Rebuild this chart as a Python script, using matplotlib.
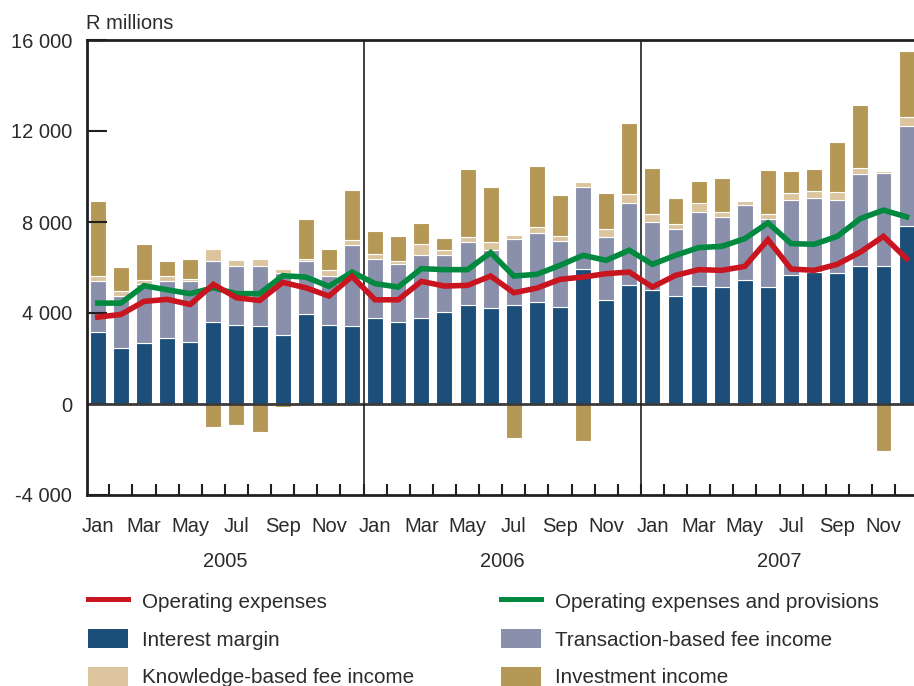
import numpy as np
import matplotlib
matplotlib.use("Agg")
import matplotlib.pyplot as plt
from matplotlib.patches import Patch
from matplotlib.lines import Line2D

plt.rcParams['font.family'] = ['Liberation Sans', 'DejaVu Sans']

years = ["2005", "2006", "2007"]
month_labels = ["Jan", "", "Mar", "", "May", "", "Jul", "", "Sep", "", "Nov", ""]

# R millions
interest_margin = [3155, 2450, 2690, 2880, 2715, 3625, 3480, 3435, 3040, 3965, 3465, 3435,
                   3790, 3625, 3790, 4025, 4360, 4200, 4330, 4480, 4260, 5935, 4580, 5245,
                   5025, 4730, 5170, 5140, 5435, 5140, 5670, 5785, 5755, 6080, 6050, 7830]
transaction_fee = [2235, 2290, 2570, 2510, 2675, 2645, 2570, 2645, 2715, 2305, 2145, 3540,
                   2570, 2545, 2760, 2545, 2780, 2560, 2925, 3055, 2890, 3615, 2765, 3595,
                   2980, 2965, 3275, 3085, 3305, 2970, 3290, 3265, 3205, 4025, 4085, 4390]
knowledge_fee = [220, 210, 205, 220, 120, 530, 265, 280, 195, 90, 265, 225,
                 250, 100, 470, 190, 205, 360, 165, 250, 240, 205, 365, 370,
                 340, 205, 370, 235, 190, 235, 295, 305, 350, 265, 115, 410]
investment = [3320, 1090, 1585, 660, 880, -1030, -925, -1250, -120, 1750, 925, 2200,
              1000, 1120, 940, 540, 2965, 2400, -1515, 2675, 1775, -1645, 1545, 3155,
              2025, 1135, 985, 1470, -100, 1925, 970, 955, 2190, 2760, -2060, 2870]
op_expenses = [3820, 3935, 4510, 4600, 4375, 5260, 4670, 4550, 5345, 5110, 4745, 5610,
               4580, 4580, 5390, 5185, 5215, 5625, 4890, 5095, 5480, 5580, 5730, 5800,
               5140, 5655, 5905, 5875, 6050, 7225, 5935, 5875, 6140, 6680, 7370, 6390]
op_exp_prov = [4435, 4435, 5200, 5020, 4850, 5110, 4850, 4850, 5640, 5580, 5170, 5800,
               5290, 5140, 5950, 5905, 5905, 6655, 5625, 5700, 6095, 6535, 6315, 6760,
               6140, 6535, 6875, 6930, 7270, 7960, 7050, 7020, 7370, 8150, 8520, 8225]

c_im = '#1b4e79'
c_tr = '#8a8fab'
c_kn = '#dcc59e'
c_inv = '#b59855'
c_red = '#c8151f'
c_green = '#00893f'
c_dark = '#231f20'
c_text = '#2b2b2b'

im = np.array(interest_margin)
tr = np.array(transaction_fee)
kn = np.array(knowledge_fee)
inv = np.array(investment)
x = np.arange(len(im))

fig = plt.figure(figsize=(9.14, 6.86), dpi=100)
ax = fig.add_axes([86.5 / 914, 1 - 495 / 686, 1 - 86.5 / 914, (495 - 40) / 686])

w = 0.69
ekw = dict(width=w, edgecolor='white', linewidth=0.8, zorder=1)
ax.bar(x, im, color=c_im, **ekw)
ax.bar(x, tr, bottom=im, color=c_tr, **ekw)
ax.bar(x, kn, bottom=im + tr, color=c_kn, **ekw)
inv_bottom = np.where(inv > 0, im + tr + kn, 0)
ax.bar(x, inv, bottom=inv_bottom, color=c_inv, **ekw)

ax.plot(x, op_exp_prov, color=c_green, lw=4.0, zorder=3, solid_joinstyle='miter')
ax.plot(x, op_expenses, color=c_red, lw=4.0, zorder=4, solid_joinstyle='miter')

ax.axhline(0, color='#3a3a3a', lw=2, zorder=2.5)
for b in [11.5, 23.5]:
    ax.axvline(b, color=c_dark, lw=1.2, zorder=2.5)

ax.set_xlim(-0.49, 35.32)
ax.set_ylim(-4000, 16000)

for s in ['left', 'top', 'bottom']:
    ax.spines[s].set_linewidth(2)
    ax.spines[s].set_color(c_dark)
ax.spines['right'].set_visible(False)

yt = np.arange(-4000, 16001, 4000)
ax.set_yticks(yt)
ax.set_yticklabels([f"{v:,}".replace(",", " ") for v in yt])
ax.tick_params(axis='y', direction='in', length=14.5, width=1.5, color=c_dark,
               labelsize=14.5, labelcolor=c_text, pad=10.5)

ax.set_xticks(x[::2])
ax.set_xticklabels([m for _ in years for m in month_labels][::2])
ax.set_xticks(np.arange(0.5, 35, 1), minor=True)
ax.tick_params(axis='x', which='major', length=0, labelsize=14.5, labelcolor=c_text, pad=15.5)
ax.tick_params(axis='x', which='minor', direction='in', length=8, width=1.5, color=c_dark)

for i, yr in enumerate(years):
    ax.text(i * 12 + 5.5, -0.147, yr, transform=ax.get_xaxis_transform(),
            ha='center', va='center', fontsize=14.5, color=c_text)

ax.text(0.0, 1.037, "R millions", transform=ax.transAxes, ha='left', va='center',
        fontsize=14.5, color=c_text)

handles = [
    Line2D([], [], color=c_red, lw=3.6),
    Patch(facecolor=c_im),
    Patch(facecolor=c_kn),
    Line2D([], [], color=c_green, lw=3.6),
    Patch(facecolor=c_tr),
    Patch(facecolor=c_inv),
]
labels = ["Operating expenses", "Interest margin", "Knowledge-based fee income",
          "Operating expenses and provisions", "Transaction-based fee income",
          "Investment income"]
leg = fig.legend(handles, labels, ncol=2, loc='upper left',
                 bbox_to_anchor=(88 / 914, 1 - 591 / 686), frameon=False,
                 fontsize=14.9, handlelength=1.94, handleheight=1.07,
                 handletextpad=0.66, labelspacing=0.82, columnspacing=4.2,
                 borderpad=0, borderaxespad=0)
for t in leg.get_texts():
    t.set_color(c_text)

fig.savefig("out.png", dpi=100)
